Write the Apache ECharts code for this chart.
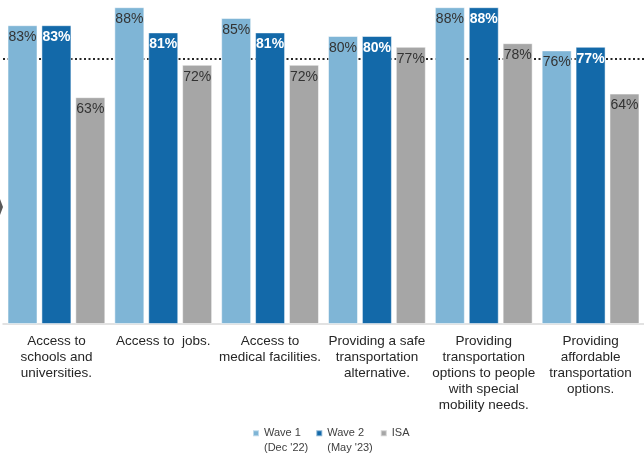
<!DOCTYPE html>
<html>
<head>
<meta charset="utf-8">
<script src="https://cdn.jsdelivr.net/npm/echarts@6/dist/echarts.min.js"></script>
<style>
  html, body { margin: 0; padding: 0; background: #fff; }
  #chart { width: 644px; height: 456px; }
</style>
</head>
<body>
<div id="chart"></div>
<script>
// categories as printed under the bars
var categories = [
    'Access to\nschools and\nuniversities.',
    'Access to  jobs.',
    'Access to\nmedical facilities.',
    'Providing a safe\ntransportation\nalternative.',
    'Providing\ntransportation\noptions to people\nwith special\nmobility needs.',
    'Providing\naffordable\ntransportation\noptions.'
];
var wave1 = [83, 88, 85, 80, 88, 76];
var wave2 = [83, 81, 81, 80, 88, 77];
var isa = [63, 72, 72, 77, 78, 64];
var benchmark = 73.7; // dotted reference line

var seriesNames = ['Wave 1\n(Dec \'22)', 'Wave 2\n(May \'23)', 'ISA'];
var font = 'Liberation Sans, Arial, sans-serif';

var chart = echarts.init(document.getElementById('chart'));

function barSeries(name, data, color, labelColor, bold) {
    return {
        name: name,
        type: 'bar',
        data: data,
        barWidth: 30,
        barGap: '13%',
        itemStyle: {
            color: color,
            borderColor: 'rgba(255,255,255,0.5)',
            borderWidth: 1
        },
        label: {
            show: true,
            position: 'insideTop',
            distance: 5,
            formatter: '{c}%',
            color: labelColor,
            fontSize: 14,
            fontWeight: bold ? 'bold' : 'normal',
            fontFamily: font
        }
    };
}

var option = {
    animation: false,
    textStyle: { fontFamily: font },
    legend: {
        data: seriesNames,
        left: 247,
        top: 421,
        itemWidth: 6,
        itemHeight: 20.5,
        itemGap: 7,
        // square sitting at the top of a tall box, so it lines up with the first text line
        icon: 'path://M0,0H6V6H0ZM0,20.5H0.01',
        formatter: function (name) {
            return name.indexOf('\n') < 0 ? name + '\n ' : name;
        },
        textStyle: {
            color: '#404040',
            fontSize: 11,
            lineHeight: 14.5,
            fontFamily: font
        }
    },
    grid: {
        left: 3,
        width: 654,
        top: 0,
        bottom: 132,
        containLabel: false
    },
    xAxis: {
        type: 'category',
        data: categories,
        axisTick: { show: false },
        axisLine: {
            show: true,
            lineStyle: { color: '#d9d9d9', width: 1.5 }
        },
        axisLabel: {
            interval: 0,
            margin: 9,
            color: '#262626',
            fontSize: 13.5,
            lineHeight: 16,
            fontFamily: font
        }
    },
    yAxis: {
        type: 'value',
        min: 0,
        max: 90,
        show: false,
        splitLine: { show: false }
    },
    graphic: [{
        type: 'polygon',
        shape: { points: [[0, 199], [3, 207], [0, 215]] },
        style: { fill: '#595959' }
    }],
    series: [
        barSeries(seriesNames[0], wave1, '#7fb5d6', '#333333', false),
        barSeries(seriesNames[1], wave2, '#1369a9', '#ffffff', true),
        barSeries(seriesNames[2], isa, '#a6a6a6', '#333333', false),
        {
            name: 'benchmark',
            type: 'line',
            data: [],
            z: 1,
            markLine: {
                silent: true,
                z: 1,
                symbol: 'none',
                label: { show: false },
                lineStyle: {
                    color: '#262626',
                    width: 2,
                    type: [2, 2.5]
                },
                data: [{ yAxis: benchmark }]
            }
        }
    ]
};

chart.setOption(option);
</script>
</body>
</html>
